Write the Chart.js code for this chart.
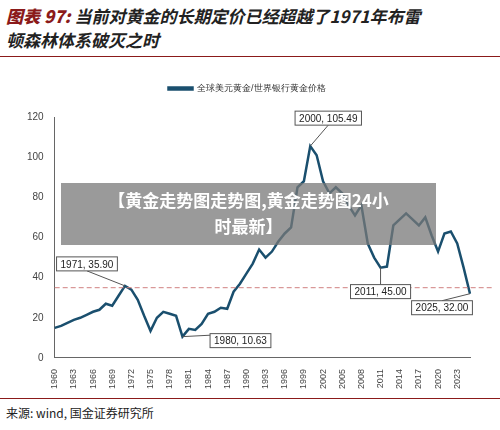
<!DOCTYPE html>
<html><head><meta charset="utf-8">
<script src="https://cdn.jsdelivr.net/npm/chart.js@4"></script>
<style>
body{margin:0;width:500px;height:430px;background:#fff;font-family:"Noto Sans CJK SC",sans-serif;position:relative;overflow:hidden}
#title{position:absolute;left:6px;top:4px;font-size:17px;color:#222;font-style:italic;line-height:24px;font-weight:bold}
#title b{color:#8b1a1a}
#line1{position:absolute;left:0;right:0;top:56px;border-top:1px solid #8b1a1a}
#line2{position:absolute;left:0;right:0;top:398px;border-top:1px solid #8b1a1a}
#src{position:absolute;left:6px;top:404px;font-size:12px;color:#222}
#wrap{position:absolute;left:0;top:74px;width:500px;height:318px}
#banner{position:absolute;left:61px;top:183px;width:375px;height:62px;background:rgba(120,120,120,0.75);color:#fff;font-weight:bold;font-size:17px;text-align:center;line-height:26px;padding-top:4px;box-sizing:border-box}
</style></head><body>
<div id="title"><b>图表 97:</b> 当前对黄金的长期定价已经超越了1971年布雷<br>顿森林体系破灭之时</div>
<div id="line1"></div>
<div id="wrap"><canvas id="c"></canvas></div>
<div id="banner">【黄金走势图走势图,黄金走势图24小<br>时最新】</div>
<div id="line2"></div>
<div id="src">来源: wind, 国金证券研究所</div>
<script>
const years = [];
for (let y = 1960; y <= 2025; y++) years.push(String(y));
const prices = [15,16,17.5,19,20,21.5,23,24,27,26,31,35.9,34,29,21,13.5,20,23,22,21,
  10.63,14.5,14,17,22,23,25,24.5,33,37,42,47,54,50,53,58,62,65,85,88,
  105.49,101,88,82,85,82,76,71,76,57,50,45,45.5,66,69,72,69,66,70,61,
  53,62,63,57,45,32];
const refLevel = 35;
const notes = [
  {year:'1971', text:'1971, 35.90', dx:-38, dy:-22},
  {year:'1980', text:'1980, 10.63', dx:58, dy:4},
  {year:'2000', text:'2000, 105.49', dx:18, dy:-28},
  {year:'2011', text:'2011, 45.00', dx:0, dy:24},
  {year:'2025', text:'2025, 32.00', dx:-28, dy:14}
];

const notePlugin = {
  id: 'notes',
  afterDatasetsDraw(chart) {
    const {ctx, scales: {x, y}, chartArea} = chart;
    ctx.save();
    // ligne de référence
    ctx.strokeStyle = '#d08080'; ctx.setLineDash([5,3]); ctx.lineWidth = 1;
    ctx.beginPath(); ctx.moveTo(chartArea.left, y.getPixelForValue(refLevel));
    ctx.lineTo(chartArea.right + 22, y.getPixelForValue(refLevel)); ctx.stroke();
    ctx.setLineDash([]);
    ctx.font = '10px "Liberation Sans", Arial';
    notes.forEach(n => {
      const px = x.getPixelForValue(years.indexOf(n.year));
      const py = y.getPixelForValue(prices[years.indexOf(n.year)]);
      const w = ctx.measureText(n.text).width + 8, h = 14;
      const bx = px + n.dx - w / 2, by = py + n.dy - h / 2;
      ctx.strokeStyle = '#555'; ctx.lineWidth = 1;
      ctx.beginPath(); ctx.moveTo(px, py);
      ctx.lineTo(px + n.dx, by + (n.dy < 0 ? h : 0)); ctx.stroke();
      ctx.fillStyle = '#fff'; ctx.fillRect(bx, by, w, h);
      ctx.strokeRect(bx, by, w, h);
      ctx.fillStyle = '#222'; ctx.textBaseline = 'middle';
      ctx.fillText(n.text, bx + 4, by + h / 2 + 1);
    });
    ctx.restore();
  }
};

new Chart(document.getElementById('c'), {
  type: 'line',
  data: {
    labels: years,
    datasets: [{
      label: '全球美元黄金/世界银行黄金价格',
      data: prices,
      borderColor: '#1a4f6e',
      borderWidth: 2.5,
      pointRadius: 0,
      tension: 0
    }]
  },
  options: {
    animation: false,
    responsive: true,
    maintainAspectRatio: false,
    layout: {padding: {left: 24, right: 30, top: 0, bottom: 0}},
    plugins: {
      legend: {
        labels: {boxWidth: 24, boxHeight: 2, color: '#333', font: {size: 9}}
      },
      tooltip: {enabled: false}
    },
    scales: {
      x: {
        grid: {display: false, drawTicks: true},
        border: {color: '#666'},
        ticks: {
          autoSkip: false, maxRotation: 90, minRotation: 90, color: '#444',
          font: {size: 9, family: '"Liberation Sans", Arial'},
          callback: (v, i) => (i % 3 === 0 ? years[i] : '')
        }
      },
      y: {
        min: 0, max: 120,
        grid: {display: false},
        border: {color: '#666'},
        ticks: {stepSize: 20, color: '#444', font: {size: 10, family: '"Liberation Sans", Arial'}}
      }
    }
  },
  plugins: [notePlugin, {id: 'legendGap', beforeInit(chart) {
    const fit = chart.legend.fit;
    chart.legend.fit = function () { fit.bind(chart.legend)(); this.height += 14; };
  }}]
});
</script>
</body></html>
